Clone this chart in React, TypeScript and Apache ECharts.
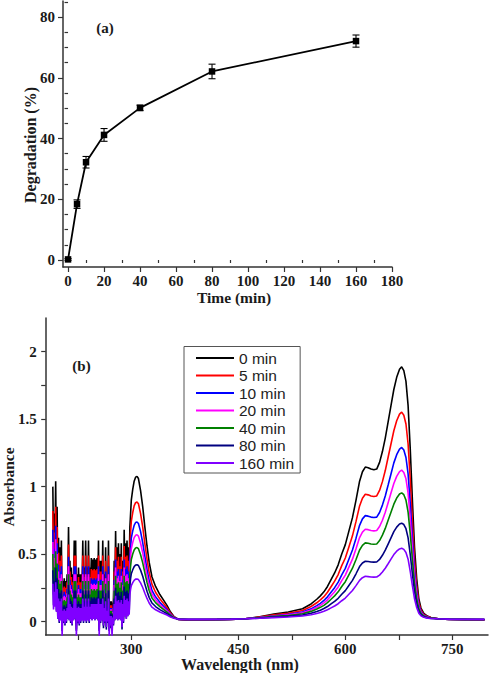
import React, { useEffect, useRef } from "react";
import * as echarts from "echarts";

// ---------- (a) Degradation vs time ----------
const timeMin = [0, 5, 10, 20, 40, 80, 160];
const degradation = [0.2, 18.4, 32.2, 41.2, 50.1, 62.1, 72.1];
const degradationErr = [0.3, 1.4, 1.9, 2.1, 0.9, 2.4, 2.0];

const timeTicks = [0, 20, 40, 60, 80, 100, 120, 140, 160, 180];
const timeMinorTicks = [10, 30, 50, 70, 90, 110, 130, 150, 170];
const degTicks = [0, 20, 40, 60, 80];
const degMinorTicks = [5, 10, 15, 25, 30, 35, 45, 50, 55, 65, 70, 75, 85];

// ---------- (b) UV-vis spectra ----------
const wlLabels = [300, 450, 600, 750];
const wlTicks = [225, 300, 375, 450, 525, 600, 675, 750];
const absLabels = [0, 0.5, 1, 1.5, 2];
const absTicks = [0, 0.25, 0.5, 0.75, 1, 1.25, 1.5, 1.75, 2];

const legendNames = ["0 min", "5 min", "10 min", "20 min", "40 min", "80 min", "160 min"];
const lineColors = ["#000000", "#ff0000", "#0000ff", "#ff00ff", "#008000", "#000080", "#8000ff"];

const wavelengths = [
  190, 191, 192, 193, 194, 195, 196, 197, 198, 199, 200, 201, 202, 203, 204, 205, 206, 207, 208, 209,
  210, 211, 212, 213, 214, 215, 216, 217, 218, 219, 220, 221, 222, 223, 224, 225, 226, 227, 228, 229,
  230, 231, 232, 233, 234, 235, 236, 237, 238, 239, 240, 241, 242, 243, 244, 245, 246, 247, 248, 249,
  250, 251, 252, 253, 254, 255, 256, 257, 258, 259, 260, 261, 262, 263, 264, 265, 266, 267, 268, 269,
  270, 271, 272, 273, 274, 275, 276, 277, 278, 279, 280, 281, 282, 283, 284, 285, 286, 287, 288, 289,
  290, 291, 292, 293, 294, 295, 296, 297, 298, 299,
  300, 302, 304, 306, 308, 310, 313, 316, 319, 322, 325, 329, 334, 340, 345, 350, 355, 360, 366, 380,
  400, 420, 440, 460, 480, 500, 520, 540, 552, 560, 565, 570, 575, 580, 585, 590, 595, 600, 605, 610,
  615, 620, 624, 628, 632, 636, 640, 644, 648, 652, 656, 660, 664, 668, 672, 676, 679, 682, 685, 688,
  691, 694, 697, 700, 703, 706, 710, 715, 720, 730, 745, 770, 795,
];

const abs0min = [
  1.00, 0.55, 0.80, 0.60, 1.04, 0.45, 0.85, 0.30, 0.62, 0.20, 0.55, 0.25, 0.60, 0.05, 0.30, 0.20, 0.32, 0.15, 0.30, 0.20,
  0.35, 0.30, 0.70, 0.25, 0.45, 0.20, 0.40, 0.15, 0.35, 0.25, 0.60, 0.30, 0.60, 0.05, 0.35, 0.20, 0.40, 0.15, 0.35, 0.20,
  0.35, 0.25, 0.60, 0.20, 0.40, 0.25, 0.60, 0.20, 0.40, 0.25, 0.60, 0.20, 0.40, 0.30, 0.47, 0.25, 0.46, 0.30, 0.47, 0.25,
  0.46, 0.30, 0.47, 0.25, 0.60, 0.05, 0.45, 0.20, 0.45, 0.25, 0.60, 0.10, 0.35, 0.20, 0.55, 0.08, 0.30, 0.20, 0.60, 0.05,
  0.15, 0.10, 0.15, 0.05, 0.12, 0.15, 0.45, 0.25, 0.67, 0.30, 0.55, 0.25, 0.58, 0.30, 0.50, 0.25, 0.58, 0.08, 0.45, 0.20,
  0.68, 0.35, 0.58, 0.30, 0.60, 0.35, 0.55, 0.40, 0.70, 0.80,
  0.90, 0.98, 1.04, 1.07, 1.076, 1.06, 0.97, 0.85, 0.70, 0.56, 0.44, 0.33, 0.26, 0.20, 0.16, 0.12, 0.07, 0.035, 0.015, 0.01,
  0.01, 0.012, 0.015, 0.02, 0.035, 0.055, 0.07, 0.095, 0.13, 0.165, 0.19, 0.22, 0.26, 0.31, 0.36, 0.42, 0.50, 0.57, 0.67, 0.77,
  0.90, 1.04, 1.11, 1.145, 1.14, 1.13, 1.125, 1.13, 1.18, 1.26, 1.36, 1.48, 1.60, 1.72, 1.81, 1.87, 1.888, 1.86, 1.78, 1.60,
  1.28, 0.90, 0.55, 0.32, 0.17, 0.10, 0.06, 0.04, 0.03, 0.02, 0.015, 0.012, 0.01,
];

const abs5min = [
  0.82, 0.42, 0.66, 0.46, 0.85, 0.34, 0.70, 0.22, 0.51, 0.13, 0.45, 0.18, 0.49, 0.01, 0.25, 0.13, 0.26, 0.09, 0.25, 0.13,
  0.29, 0.22, 0.57, 0.18, 0.37, 0.13, 0.33, 0.09, 0.29, 0.18, 0.49, 0.22, 0.49, 0.01, 0.29, 0.13, 0.33, 0.09, 0.29, 0.13,
  0.29, 0.18, 0.49, 0.13, 0.33, 0.18, 0.49, 0.13, 0.33, 0.18, 0.49, 0.13, 0.33, 0.22, 0.39, 0.18, 0.38, 0.22, 0.39, 0.18,
  0.38, 0.22, 0.39, 0.18, 0.49, 0.01, 0.37, 0.13, 0.37, 0.18, 0.49, 0.05, 0.29, 0.13, 0.45, 0.04, 0.25, 0.13, 0.49, 0.01,
  0.12, 0.05, 0.12, 0.01, 0.10, 0.09, 0.37, 0.18, 0.55, 0.22, 0.45, 0.18, 0.48, 0.22, 0.41, 0.18, 0.48, 0.04, 0.37, 0.13,
  0.56, 0.26, 0.48, 0.22, 0.49, 0.26, 0.45, 0.30, 0.57, 0.66,
  0.742, 0.808, 0.857, 0.881, 0.886, 0.873, 0.80, 0.70, 0.578, 0.463, 0.365, 0.275, 0.217, 0.168, 0.135, 0.102, 0.061, 0.033, 0.016, 0.012,
  0.012, 0.014, 0.016, 0.02, 0.033, 0.049, 0.061, 0.082, 0.111, 0.139, 0.16, 0.184, 0.217, 0.258, 0.299, 0.348, 0.414, 0.471, 0.553, 0.635,
  0.742, 0.857, 0.914, 0.943, 0.939, 0.931, 0.927, 0.931, 0.972, 1.037, 1.119, 1.218, 1.316, 1.414, 1.488, 1.537, 1.552, 1.529, 1.464, 1.316,
  1.054, 0.742, 0.455, 0.266, 0.143, 0.086, 0.053, 0.037, 0.029, 0.02, 0.016, 0.014, 0.012,
];

const abs10min = [
  0.68, 0.32, 0.54, 0.36, 0.71, 0.26, 0.58, 0.15, 0.42, 0.09, 0.37, 0.12, 0.41, -0.02, 0.20, 0.09, 0.22, 0.05, 0.20, 0.09,
  0.24, 0.15, 0.48, 0.12, 0.31, 0.09, 0.27, 0.05, 0.24, 0.12, 0.41, 0.15, 0.41, -0.02, 0.24, 0.09, 0.27, 0.05, 0.24, 0.09,
  0.24, 0.12, 0.41, 0.09, 0.27, 0.12, 0.41, 0.09, 0.27, 0.12, 0.41, 0.09, 0.27, 0.15, 0.32, 0.12, 0.31, 0.15, 0.32, 0.12,
  0.31, 0.15, 0.32, 0.12, 0.41, -0.02, 0.31, 0.09, 0.31, 0.12, 0.41, 0.02, 0.24, 0.09, 0.37, 0.00, 0.20, 0.09, 0.41, -0.02,
  0.10, 0.02, 0.10, -0.02, 0.08, 0.05, 0.31, 0.12, 0.46, 0.15, 0.37, 0.12, 0.39, 0.15, 0.34, 0.12, 0.39, 0.00, 0.31, 0.09,
  0.46, 0.19, 0.39, 0.15, 0.41, 0.19, 0.37, 0.22, 0.48, 0.55,
  0.618, 0.672, 0.713, 0.734, 0.738, 0.727, 0.666, 0.584, 0.482, 0.387, 0.305, 0.23, 0.183, 0.142, 0.115, 0.088, 0.054, 0.03, 0.016, 0.013,
  0.013, 0.014, 0.016, 0.02, 0.03, 0.043, 0.054, 0.071, 0.094, 0.118, 0.135, 0.156, 0.183, 0.217, 0.251, 0.292, 0.346, 0.394, 0.462, 0.53,
  0.618, 0.713, 0.761, 0.785, 0.781, 0.774, 0.771, 0.774, 0.808, 0.863, 0.931, 1.012, 1.094, 1.176, 1.237, 1.278, 1.29, 1.271, 1.216, 1.094,
  0.876, 0.618, 0.38, 0.224, 0.122, 0.074, 0.047, 0.033, 0.026, 0.02, 0.016, 0.014, 0.013,
];

const abs20min = [
  0.59, 0.26, 0.47, 0.29, 0.61, 0.21, 0.50, 0.12, 0.37, 0.06, 0.32, 0.09, 0.35, -0.03, 0.18, 0.06, 0.19, 0.03, 0.18, 0.06,
  0.21, 0.12, 0.41, 0.09, 0.27, 0.06, 0.24, 0.03, 0.21, 0.09, 0.35, 0.12, 0.35, -0.03, 0.21, 0.06, 0.24, 0.03, 0.21, 0.06,
  0.21, 0.09, 0.35, 0.06, 0.24, 0.09, 0.35, 0.06, 0.24, 0.09, 0.35, 0.06, 0.24, 0.12, 0.28, 0.09, 0.27, 0.12, 0.28, 0.09,
  0.27, 0.12, 0.28, 0.09, 0.35, -0.03, 0.27, 0.06, 0.27, 0.09, 0.35, 0.00, 0.21, 0.06, 0.32, -0.01, 0.18, 0.06, 0.35, -0.03,
  0.09, 0.00, 0.09, -0.03, 0.07, 0.03, 0.27, 0.09, 0.40, 0.12, 0.32, 0.09, 0.34, 0.12, 0.30, 0.09, 0.34, -0.01, 0.27, 0.06,
  0.40, 0.15, 0.34, 0.12, 0.35, 0.15, 0.32, 0.18, 0.41, 0.48,
  0.539, 0.586, 0.622, 0.639, 0.643, 0.633, 0.58, 0.51, 0.421, 0.338, 0.268, 0.203, 0.161, 0.126, 0.102, 0.079, 0.049, 0.029, 0.017, 0.014,
  0.014, 0.015, 0.017, 0.02, 0.029, 0.04, 0.049, 0.064, 0.085, 0.105, 0.12, 0.138, 0.161, 0.191, 0.22, 0.256, 0.303, 0.344, 0.403, 0.462,
  0.539, 0.622, 0.663, 0.684, 0.681, 0.675, 0.672, 0.675, 0.704, 0.751, 0.81, 0.881, 0.952, 1.023, 1.076, 1.111, 1.122, 1.105, 1.058, 0.952,
  0.763, 0.539, 0.333, 0.197, 0.108, 0.067, 0.043, 0.032, 0.026, 0.02, 0.017, 0.015, 0.014,
];

const abs40min = [
  0.50, 0.20, 0.40, 0.22, 0.52, 0.15, 0.43, 0.07, 0.31, 0.02, 0.28, 0.05, 0.30, -0.06, 0.15, 0.02, 0.16, 0.00, 0.15, 0.02,
  0.18, 0.07, 0.35, 0.05, 0.23, 0.02, 0.20, 0.00, 0.18, 0.05, 0.30, 0.07, 0.30, -0.06, 0.18, 0.02, 0.20, 0.00, 0.18, 0.02,
  0.18, 0.05, 0.30, 0.02, 0.20, 0.05, 0.30, 0.02, 0.20, 0.05, 0.30, 0.02, 0.20, 0.07, 0.24, 0.05, 0.23, 0.07, 0.24, 0.05,
  0.23, 0.07, 0.24, 0.05, 0.30, -0.06, 0.23, 0.02, 0.23, 0.05, 0.30, -0.03, 0.18, 0.02, 0.28, -0.04, 0.15, 0.02, 0.30, -0.06,
  0.08, -0.03, 0.08, -0.06, 0.06, 0.00, 0.23, 0.05, 0.34, 0.07, 0.28, 0.05, 0.29, 0.07, 0.25, 0.05, 0.29, -0.04, 0.23, 0.02,
  0.34, 0.10, 0.29, 0.07, 0.30, 0.10, 0.28, 0.12, 0.35, 0.41,
  0.46, 0.50, 0.53, 0.545, 0.548, 0.54, 0.495, 0.435, 0.36, 0.29, 0.23, 0.175, 0.14, 0.11, 0.09, 0.07, 0.045, 0.028, 0.018, 0.015,
  0.015, 0.016, 0.018, 0.02, 0.028, 0.038, 0.045, 0.058, 0.075, 0.093, 0.105, 0.12, 0.14, 0.165, 0.19, 0.22, 0.26, 0.295, 0.345, 0.395,
  0.46, 0.53, 0.565, 0.583, 0.58, 0.575, 0.573, 0.575, 0.60, 0.64, 0.69, 0.75, 0.81, 0.87, 0.915, 0.945, 0.954, 0.94, 0.90, 0.81,
  0.65, 0.46, 0.285, 0.17, 0.095, 0.06, 0.04, 0.03, 0.025, 0.02, 0.017, 0.016, 0.015,
];

const abs80min = [
  0.38, 0.12, 0.30, 0.14, 0.40, 0.08, 0.32, 0.02, 0.24, -0.01, 0.21, 0.01, 0.23, -0.07, 0.11, -0.01, 0.12, -0.03, 0.11, -0.01,
  0.13, 0.02, 0.27, 0.01, 0.17, -0.01, 0.15, -0.03, 0.13, 0.01, 0.23, 0.02, 0.23, -0.07, 0.13, -0.01, 0.15, -0.03, 0.13, -0.01,
  0.13, 0.01, 0.23, -0.01, 0.15, 0.01, 0.23, -0.01, 0.15, 0.01, 0.23, -0.01, 0.15, 0.02, 0.18, 0.01, 0.17, 0.02, 0.18, 0.01,
  0.17, 0.02, 0.18, 0.01, 0.23, -0.07, 0.17, -0.01, 0.17, 0.01, 0.23, -0.05, 0.13, -0.01, 0.21, -0.06, 0.11, -0.01, 0.23, -0.07,
  0.06, -0.05, 0.06, -0.07, 0.05, -0.03, 0.17, 0.01, 0.25, 0.02, 0.21, 0.01, 0.22, 0.02, 0.19, 0.01, 0.22, -0.06, 0.17, -0.01,
  0.26, 0.04, 0.22, 0.02, 0.23, 0.04, 0.21, 0.06, 0.27, 0.32,
  0.354, 0.384, 0.407, 0.419, 0.421, 0.415, 0.381, 0.335, 0.278, 0.225, 0.179, 0.137, 0.111, 0.088, 0.073, 0.058, 0.039, 0.025, 0.018, 0.016,
  0.016, 0.017, 0.018, 0.02, 0.025, 0.033, 0.039, 0.048, 0.061, 0.075, 0.084, 0.096, 0.111, 0.13, 0.149, 0.172, 0.202, 0.229, 0.267, 0.305,
  0.354, 0.407, 0.434, 0.447, 0.445, 0.441, 0.44, 0.441, 0.46, 0.491, 0.529, 0.574, 0.62, 0.666, 0.70, 0.723, 0.729, 0.719, 0.688, 0.62,
  0.498, 0.354, 0.221, 0.134, 0.077, 0.05, 0.035, 0.027, 0.023, 0.02, 0.018, 0.017, 0.016,
];

const abs160min = [
  0.28, 0.09, 0.22, 0.11, 0.29, 0.07, 0.24, 0.02, 0.17, 0.00, 0.15, 0.01, 0.17, -0.11, 0.08, 0.00, 0.09, -0.02, 0.08, 0.00,
  0.10, 0.02, 0.20, 0.01, 0.13, 0.00, 0.11, -0.02, 0.10, 0.01, 0.17, 0.02, 0.17, -0.11, 0.10, 0.00, 0.11, -0.02, 0.10, 0.00,
  0.10, 0.01, 0.17, 0.00, 0.11, 0.01, 0.17, 0.00, 0.11, 0.01, 0.17, 0.00, 0.11, 0.02, 0.13, 0.01, 0.13, 0.02, 0.13, 0.01,
  0.13, 0.02, 0.13, 0.01, 0.17, -0.11, 0.13, 0.00, 0.13, 0.01, 0.17, -0.03, 0.10, 0.00, 0.15, -0.04, 0.08, 0.00, 0.17, -0.11,
  0.04, -0.03, 0.04, -0.11, 0.03, -0.02, 0.13, 0.01, 0.19, 0.02, 0.15, 0.01, 0.16, 0.02, 0.14, 0.01, 0.16, -0.04, 0.13, 0.00,
  0.19, 0.04, 0.16, 0.02, 0.17, 0.04, 0.15, 0.05, 0.20, 0.24,
  0.266, 0.288, 0.305, 0.314, 0.315, 0.311, 0.286, 0.252, 0.21, 0.171, 0.137, 0.106, 0.087, 0.07, 0.059, 0.048, 0.034, 0.024, 0.018, 0.017,
  0.017, 0.017, 0.018, 0.02, 0.024, 0.029, 0.034, 0.041, 0.05, 0.06, 0.067, 0.076, 0.087, 0.101, 0.115, 0.132, 0.154, 0.174, 0.202, 0.23,
  0.266, 0.305, 0.325, 0.335, 0.333, 0.33, 0.329, 0.33, 0.344, 0.367, 0.395, 0.428, 0.462, 0.496, 0.521, 0.538, 0.543, 0.535, 0.512, 0.462,
  0.372, 0.266, 0.168, 0.104, 0.062, 0.042, 0.031, 0.025, 0.022, 0.02, 0.018, 0.017, 0.017,
];

const spectra = [abs0min, abs5min, abs10min, abs20min, abs40min, abs80min, abs160min];

// ---------- styling ----------
const AX = "#333333";
const TXT = "#1a1a1a";
const SERIF = '"Liberation Serif", "Times New Roman", serif';
const tickFont = { fontFamily: SERIF, fontWeight: "bold" as const, fontSize: 15, color: TXT };

function buildOption() {
  const axisLineStyle = { show: true, onZero: false, lineStyle: { color: AX, width: 1.5 } };
  const tickLine = { color: AX, width: 1.2 };
  const center = { textAlign: "center", textVerticalAlign: "middle", align: "center", verticalAlign: "middle" };

  const spectraSeries = spectra.map((arr, k) => ({
    name: legendNames[k],
    type: "line",
    xAxisIndex: 2,
    yAxisIndex: 2,
    data: wavelengths.map((w, i) => [w, arr[i]]),
    showSymbol: false,
    symbol: "none",
    clip: true,
    lineStyle: { color: lineColors[k], width: 1.6, join: "bevel" },
    itemStyle: { color: lineColors[k] },
    color: lineColors[k],
    z: 2 + k,
  }));

  return {
    animation: false,
    backgroundColor: "#ffffff",
    grid: [
      { left: 63, top: 1, width: 329, height: 266 },
      { left: 45.7, top: 318, width: 442.3, height: 317 },
    ],
    xAxis: [
      {
        type: "value", gridIndex: 0, min: -2.8, max: 180, position: "bottom",
        axisLine: axisLineStyle, splitLine: { show: false },
        axisTick: { show: true, customValues: timeTicks, length: 5, lineStyle: tickLine },
        axisLabel: { customValues: timeTicks, margin: 6, ...tickFont },
      },
      {
        type: "value", gridIndex: 0, min: -2.8, max: 180, position: "bottom",
        axisLine: { show: false }, splitLine: { show: false },
        axisTick: { show: true, customValues: timeMinorTicks, length: 3, lineStyle: tickLine },
        axisLabel: { show: false },
      },
      {
        type: "value", gridIndex: 1, min: 180, max: 800, position: "bottom",
        axisLine: axisLineStyle, splitLine: { show: false },
        axisTick: { show: true, customValues: wlTicks, length: 5, lineStyle: tickLine },
        axisLabel: { customValues: wlLabels, margin: 6, ...tickFont },
      },
    ],
    yAxis: [
      {
        type: "value", gridIndex: 0, min: -2.3, max: 85.3, position: "left",
        axisLine: axisLineStyle, splitLine: { show: false },
        axisTick: { show: true, customValues: degTicks, length: 5, lineStyle: tickLine },
        axisLabel: { customValues: degTicks, margin: 8, ...tickFont },
      },
      {
        type: "value", gridIndex: 0, min: -2.3, max: 85.3, position: "left",
        axisLine: { show: false }, splitLine: { show: false },
        axisTick: { show: true, customValues: degMinorTicks, length: 3.5, lineStyle: tickLine },
        axisLabel: { show: false },
      },
      {
        type: "value", gridIndex: 1, min: -0.1, max: 2.25, position: "left",
        axisLine: axisLineStyle, splitLine: { show: false },
        axisTick: { show: true, customValues: absTicks, length: 4.5, lineStyle: tickLine },
        axisLabel: { customValues: absLabels, margin: 9, ...tickFont },
      },
    ],
    legend: {
      orient: "vertical",
      left: 184,
      top: 346.5,
      padding: [3.5, 6, 2, 12],
      itemWidth: 38,
      itemHeight: 2,
      itemGap: 1.5,
      icon: "rect",
      borderColor: "#555555",
      borderWidth: 1,
      backgroundColor: "#ffffff",
      textStyle: { fontFamily: '"Liberation Sans", Arial, sans-serif', fontSize: 15.5, color: "#222222", lineHeight: 16 },
      data: legendNames,
    },
    series: [
      {
        name: "error",
        type: "custom",
        xAxisIndex: 0,
        yAxisIndex: 0,
        data: timeMin.map((t, i) => [t, degradation[i], degradationErr[i]]),
        renderItem: (params: any, api: any) => {
          const x = api.value(0);
          const y = api.value(1);
          const e = api.value(2);
          const top = api.coord([x, y + e]);
          const bot = api.coord([x, y - e]);
          const cw = 3.5;
          const st = { stroke: "#000", lineWidth: 1.1 };
          return {
            type: "group",
            children: [
              { type: "line", shape: { x1: top[0], y1: top[1], x2: bot[0], y2: bot[1] }, style: st },
              { type: "line", shape: { x1: top[0] - cw, y1: top[1], x2: top[0] + cw, y2: top[1] }, style: st },
              { type: "line", shape: { x1: bot[0] - cw, y1: bot[1], x2: bot[0] + cw, y2: bot[1] }, style: st },
            ],
          };
        },
        z: 3,
      },
      {
        name: "Degradation",
        type: "line",
        xAxisIndex: 0,
        yAxisIndex: 0,
        data: timeMin.map((t, i) => [t, degradation[i]]),
        symbol: "rect",
        symbolSize: 6.5,
        showSymbol: true,
        lineStyle: { color: "#000", width: 1.8 },
        itemStyle: { color: "#000" },
        z: 4,
      },
      ...spectraSeries,
    ],
    graphic: [
      { type: "text", x: 105, y: 28, style: { text: "(a)", font: `bold 15px ${SERIF}`, fill: TXT, ...center } },
      { type: "text", x: 234, y: 297.5, style: { text: "Time (min)", font: `bold 15.5px ${SERIF}`, fill: TXT, ...center } },
      {
        type: "text", x: 30, y: 145, rotation: Math.PI / 2,
        style: { text: "Degradation (%)", font: `bold 16px ${SERIF}`, fill: TXT, ...center },
      },
      { type: "text", x: 81.5, y: 365.5, style: { text: "(b)", font: `bold 15px ${SERIF}`, fill: TXT, ...center } },
      {
        type: "text", x: 8, y: 487, rotation: Math.PI / 2,
        style: { text: "Absorbance", font: `bold 15.5px ${SERIF}`, fill: TXT, ...center },
      },
      { type: "text", x: 240, y: 664.5, style: { text: "Wavelength (nm)", font: `bold 16px ${SERIF}`, fill: TXT, ...center } },
    ],
  };
}

export default function App() {
  const ref = useRef<HTMLDivElement>(null);
  useEffect(() => {
    document.body.style.margin = "0";
    if (!ref.current) return;
    const chart = echarts.init(ref.current, null, { renderer: "svg" });
    chart.setOption(buildOption() as any);
    return () => chart.dispose();
  }, []);
  return <div ref={ref} style={{ width: 490, height: 673, background: "#fff" }} />;
}
